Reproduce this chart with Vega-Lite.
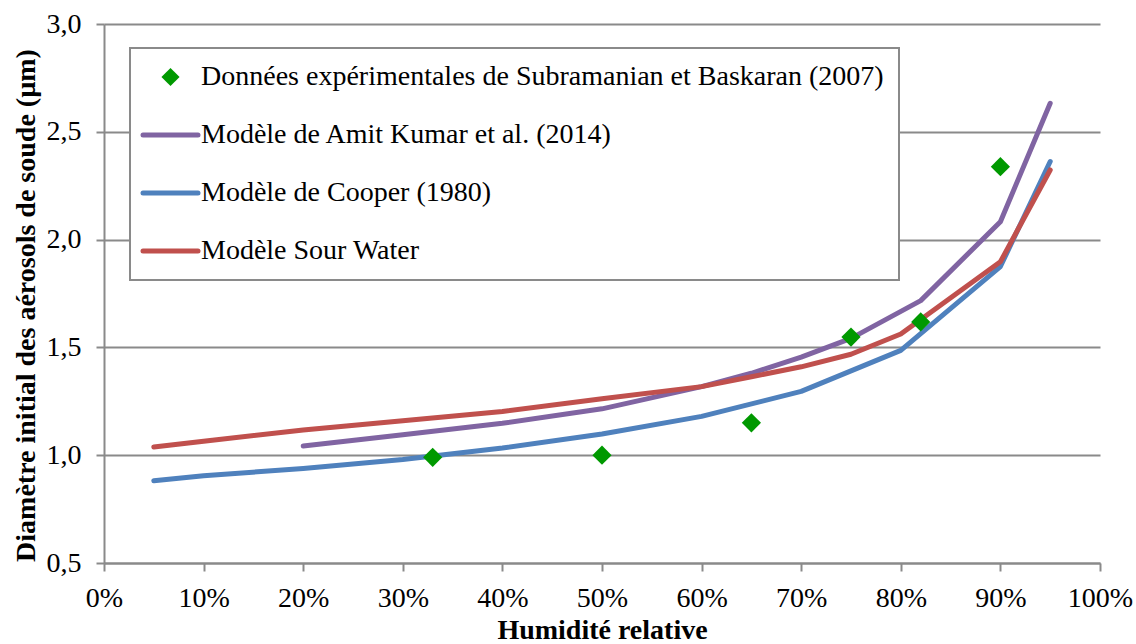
{
  "$schema": "https://vega.github.io/schema/vega-lite/v6.json",
  "width": 996,
  "height": 539,
  "autosize": {"type": "none"},
  "padding": {"left": 104, "top": 24, "right": 36, "bottom": 81},
  "background": "white",
  "config": {
    "view": {"stroke": null},
    "font": "Liberation Serif",
    "axis": {
      "domainColor": "#8a8a8a",
      "domainWidth": 2,
      "tickColor": "#8a8a8a",
      "tickWidth": 2,
      "tickSize": 8,
      "gridColor": "#8a8a8a",
      "gridWidth": 2,
      "labelColor": "black",
      "labelFont": "Liberation Serif",
      "labelFontSize": 28,
      "labelFlush": false,
      "labelOverlap": false,
      "titleFont": "Liberation Serif",
      "titleFontSize": 28,
      "titleFontWeight": "bold",
      "titleColor": "black"
    }
  },
  "data": {
    "values": [
      {"series": "Données expérimentales de Subramanian et Baskaran (2007)", "x": 33, "y": 0.99},
      {"series": "Données expérimentales de Subramanian et Baskaran (2007)", "x": 50, "y": 1.0},
      {"series": "Données expérimentales de Subramanian et Baskaran (2007)", "x": 65, "y": 1.15},
      {"series": "Données expérimentales de Subramanian et Baskaran (2007)", "x": 75, "y": 1.548},
      {"series": "Données expérimentales de Subramanian et Baskaran (2007)", "x": 82, "y": 1.618},
      {"series": "Données expérimentales de Subramanian et Baskaran (2007)", "x": 90, "y": 2.338},
      {"series": "Modèle de Amit Kumar et al. (2014)", "x": 20, "y": 1.043},
      {"series": "Modèle de Amit Kumar et al. (2014)", "x": 30, "y": 1.095},
      {"series": "Modèle de Amit Kumar et al. (2014)", "x": 40, "y": 1.148},
      {"series": "Modèle de Amit Kumar et al. (2014)", "x": 50, "y": 1.215},
      {"series": "Modèle de Amit Kumar et al. (2014)", "x": 60, "y": 1.318},
      {"series": "Modèle de Amit Kumar et al. (2014)", "x": 65, "y": 1.38},
      {"series": "Modèle de Amit Kumar et al. (2014)", "x": 70, "y": 1.455},
      {"series": "Modèle de Amit Kumar et al. (2014)", "x": 75, "y": 1.542},
      {"series": "Modèle de Amit Kumar et al. (2014)", "x": 82, "y": 1.717},
      {"series": "Modèle de Amit Kumar et al. (2014)", "x": 90, "y": 2.083},
      {"series": "Modèle de Amit Kumar et al. (2014)", "x": 95, "y": 2.632},
      {"series": "Modèle de Cooper (1980)", "x": 5, "y": 0.882},
      {"series": "Modèle de Cooper (1980)", "x": 10, "y": 0.905},
      {"series": "Modèle de Cooper (1980)", "x": 20, "y": 0.938},
      {"series": "Modèle de Cooper (1980)", "x": 30, "y": 0.98},
      {"series": "Modèle de Cooper (1980)", "x": 40, "y": 1.033},
      {"series": "Modèle de Cooper (1980)", "x": 50, "y": 1.098},
      {"series": "Modèle de Cooper (1980)", "x": 60, "y": 1.18},
      {"series": "Modèle de Cooper (1980)", "x": 70, "y": 1.296},
      {"series": "Modèle de Cooper (1980)", "x": 80, "y": 1.486},
      {"series": "Modèle de Cooper (1980)", "x": 90, "y": 1.875},
      {"series": "Modèle de Cooper (1980)", "x": 95, "y": 2.362},
      {"series": "Modèle Sour Water", "x": 5, "y": 1.038},
      {"series": "Modèle Sour Water", "x": 10, "y": 1.065},
      {"series": "Modèle Sour Water", "x": 20, "y": 1.117},
      {"series": "Modèle Sour Water", "x": 30, "y": 1.16},
      {"series": "Modèle Sour Water", "x": 40, "y": 1.203},
      {"series": "Modèle Sour Water", "x": 50, "y": 1.262},
      {"series": "Modèle Sour Water", "x": 60, "y": 1.318},
      {"series": "Modèle Sour Water", "x": 65, "y": 1.364},
      {"series": "Modèle Sour Water", "x": 70, "y": 1.41},
      {"series": "Modèle Sour Water", "x": 75, "y": 1.468},
      {"series": "Modèle Sour Water", "x": 80, "y": 1.562},
      {"series": "Modèle Sour Water", "x": 90, "y": 1.897},
      {"series": "Modèle Sour Water", "x": 95, "y": 2.323}
    ]
  },
  "encoding": {
    "x": {
      "field": "x",
      "type": "quantitative",
      "scale": {"domain": [0, 100], "nice": false, "zero": false},
      "axis": {
        "title": "Humidité relative",
        "values": [0, 10, 20, 30, 40, 50, 60, 70, 80, 90, 100],
        "labelExpr": "datum.value + '%'",
        "grid": false,
        "labelPadding": 13,
        "titlePadding": 4
      }
    },
    "y": {
      "field": "y",
      "type": "quantitative",
      "scale": {"domain": [0.5, 3.0], "nice": false, "zero": false},
      "axis": {
        "title": "Diamètre initial des aérosols de soude (µm)",
        "values": [0.5, 1.0, 1.5, 2.0, 2.5, 3.0],
        "labelExpr": "replace(format(datum.value, '.1f'), '.', ',')",
        "grid": true,
        "labelPadding": 15,
        "titlePadding": 6,
        "titleY": 281
      }
    },
    "color": {
      "field": "series",
      "type": "nominal",
      "scale": {
        "domain": [
          "Données expérimentales de Subramanian et Baskaran (2007)",
          "Modèle de Amit Kumar et al. (2014)",
          "Modèle de Cooper (1980)",
          "Modèle Sour Water"
        ],
        "range": ["#009900", "#8064a2", "#4f81bd", "#c0504d"]
      },
      "legend": {
        "orient": "none",
        "legendX": 26,
        "legendY": 24,
        "title": null,
        "strokeColor": "#8a8a8a",
        "fillColor": "white",
        "padding": 15,
        "symbolOffset": 11.5,
        "symbolSize": 3025,
        "symbolType": "stroke",
        "symbolStrokeWidth": 5,
        "labelFont": "Liberation Serif",
        "labelFontSize": 28,
        "labelColor": "black",
        "labelLimit": 0,
        "labelOffset": 16.5,
        "rowPadding": 30,
        "encode": {
          "legend": {"update": {"strokeWidth": {"value": 2}}},
          "symbols": {
            "update": {
              "shape": {"signal": "datum.value == 'Données expérimentales de Subramanian et Baskaran (2007)' ? 'diamond' : 'stroke'"},
              "size": {"signal": "datum.value == 'Données expérimentales de Subramanian et Baskaran (2007)' ? 330 : 3025"},
              "fill": {"signal": "datum.value == 'Données expérimentales de Subramanian et Baskaran (2007)' ? '#009900' : 'transparent'"},
              "stroke": {"signal": "datum.value == 'Données expérimentales de Subramanian et Baskaran (2007)' ? 'transparent' : scale('color', datum.value)"},
              "strokeWidth": {"signal": "datum.value == 'Données expérimentales de Subramanian et Baskaran (2007)' ? 0 : 5"},
              "strokeCap": {"value": "round"},
              "opacity": {"value": 1}
            }
          }
        }
      }
    }
  },
  "layer": [
    {
      "transform": [{"filter": "datum.series == 'Modèle de Amit Kumar et al. (2014)'"}],
      "mark": {"type": "line", "strokeWidth": 5, "strokeCap": "round", "strokeJoin": "round"}
    },
    {
      "transform": [{"filter": "datum.series == 'Modèle de Cooper (1980)'"}],
      "mark": {"type": "line", "strokeWidth": 5, "strokeCap": "round", "strokeJoin": "round"}
    },
    {
      "transform": [{"filter": "datum.series == 'Modèle Sour Water'"}],
      "mark": {"type": "line", "strokeWidth": 5, "strokeCap": "round", "strokeJoin": "round"}
    },
    {
      "transform": [{"filter": "datum.series == 'Données expérimentales de Subramanian et Baskaran (2007)'"}],
      "mark": {"type": "point", "shape": "diamond", "filled": true, "size": 370, "opacity": 1}
    }
  ]
}
